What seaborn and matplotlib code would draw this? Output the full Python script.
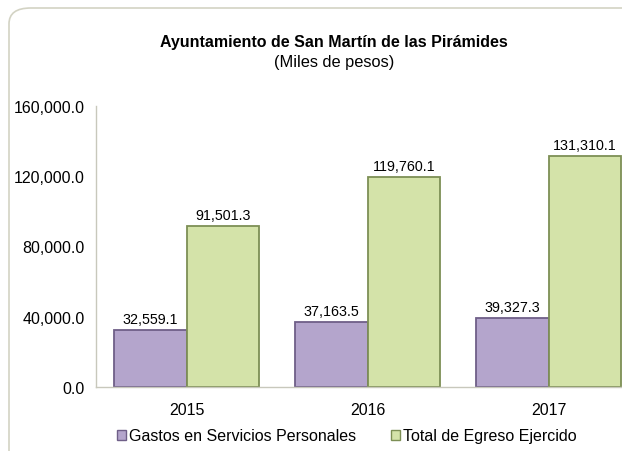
import pandas as pd
import seaborn as sns
import matplotlib.pyplot as plt
from matplotlib.patches import FancyBboxPatch, Patch

years = ["2015", "2016", "2017"]
gastos = [32559.1, 37163.5, 39327.3]
total = [91501.3, 119760.1, 131310.1]
series = ["Gastos en Servicios Personales", "Total de Egreso Ejercido"]

df = pd.DataFrame({
    "year": years * 2,
    "value": gastos + total,
    "serie": [series[0]] * 3 + [series[1]] * 3,
})

sns.set_style("white")
plt.rcParams["font.family"] = ["Liberation Sans", "DejaVu Sans"]
plt.rcParams["text.color"] = "black"
plt.rcParams["xtick.labelcolor"] = "black"
plt.rcParams["ytick.labelcolor"] = "black"

colors = ["#b4a5cc", "#d4e3a9"]
edges = ["#6f5f88", "#7d8f55"]

fig = plt.figure(figsize=(6.22, 4.52), dpi=100)

# rounded chart frame (runs off the right/bottom edge like the reference)
frame = FancyBboxPatch((9 / 622, -20 / 452), 660 / 622, 463 / 452,
                       boxstyle="round,pad=0,rounding_size=0.035",
                       transform=fig.transFigure, facecolor="none",
                       edgecolor="#d3d3c4", linewidth=1.2, zorder=-5)
fig.patches.append(frame)

ax = fig.add_axes([96 / 622, 64 / 452, 543 / 622, 281 / 452])
ax.set_zorder(2)
sns.barplot(data=df, x="year", y="value", hue="serie", palette=colors,
            width=0.8, ax=ax, legend=False, saturation=1)

for bars, ec in zip(ax.containers, edges):
    for b in bars:
        b.set_edgecolor(ec)
        b.set_linewidth(1.3)
    ax.bar_label(bars, labels=[f"{v.get_height():,.1f}" for v in bars],
                 padding=3, fontsize=10.3, color="black")

ax.set_ylim(0, 160000)
ax.set_yticks([0, 40000, 80000, 120000, 160000])
ax.set_yticklabels([f"{t:,.1f}" for t in ax.get_yticks()], fontsize=11.5)
ax.set_xlim(-0.5, 2.5)
ax.tick_params(axis="x", labelsize=11.5, length=0, pad=11)
ax.set_xticks([-0.5, 0.5, 1.5, 2.5], minor=True)
ax.tick_params(axis="x", which="minor", length=5, color="#c8c8bc", direction="out")
ax.tick_params(axis="y", length=5, color="#c8c8bc", direction="out", pad=3)
ax.set_xlabel("")
ax.set_ylabel("")
for s in ["top", "right"]:
    ax.spines[s].set_visible(False)
for s in ["left", "bottom"]:
    ax.spines[s].set_color("#c8c8bc")
    ax.spines[s].set_linewidth(1)
ax.patch.set_alpha(0)

fig.text(334 / 622, 1 - 43 / 452, "Ayuntamiento de San Martín de las Pirámides",
         ha="center", va="center", fontsize=11.5, fontweight="bold")
fig.text(334 / 622, 1 - 62 / 452, "(Miles de pesos)", ha="center", va="center",
         fontsize=11.8)

handles = [Patch(facecolor=c, edgecolor=e, linewidth=1) for c, e in zip(colors, edges)]
fig.legend(handles, series, loc="center", bbox_to_anchor=(347 / 622, 1 - 437 / 452),
           ncol=2, frameon=False, fontsize=11.5, handlelength=0.55,
           handleheight=0.55, handletextpad=0.2, columnspacing=2.2)

fig.savefig("out.png", dpi=100)
